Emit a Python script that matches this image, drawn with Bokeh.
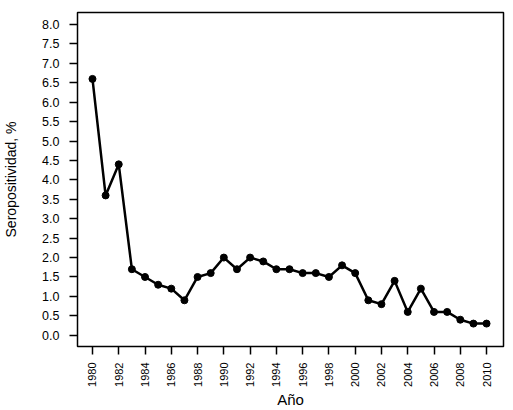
from bokeh.plotting import figure
from bokeh.models import FixedTicker, Range1d, NumeralTickFormatter
from bokeh.embed import file_html
from bokeh.resources import INLINE
import math

years = list(range(1980, 2011))
seropositividad = [6.6, 3.6, 4.4, 1.7, 1.5, 1.3, 1.2, 0.9, 1.5, 1.6, 2.0, 1.7, 2.0, 1.9,
                   1.7, 1.7, 1.6, 1.6, 1.5, 1.8, 1.6, 0.9, 0.8, 1.4, 0.6, 1.2, 0.6, 0.6,
                   0.4, 0.3, 0.3]
x_ticks = list(range(1980, 2011, 2))
y_ticks = [i * 0.5 for i in range(17)]

p = figure(width=513, height=410, output_backend="svg", toolbar_location=None,
           x_range=Range1d(1978.86, 2011.29), y_range=Range1d(-0.29, 8.31),
           min_border_left=77, min_border_top=12, min_border_right=10, min_border_bottom=62)

p.line(years, seropositividad, line_color="black", line_width=2.5)
p.scatter(years, seropositividad, size=7, fill_color="black", line_color="black")

p.grid.visible = False
p.outline_line_color = "black"
p.outline_line_width = 1.5
p.background_fill_color = "white"
p.border_fill_color = "white"

font = "Liberation Sans"
for ax in (p.xaxis[0], p.yaxis[0]):
    ax.axis_line_color = None
    ax.major_tick_out = 8
    ax.major_tick_in = 0
    ax.minor_tick_line_color = None
    ax.major_tick_line_color = "black"
    ax.major_tick_line_width = 1.5
    ax.major_label_text_font = font
    ax.major_label_text_color = "black"
    ax.axis_label_text_font = font
    ax.axis_label_text_font_style = "normal"
    ax.axis_label_text_color = "black"

p.xaxis.ticker = FixedTicker(ticks=x_ticks)
p.xaxis.major_label_orientation = math.pi / 2
p.xaxis.major_label_text_font_size = "11px"
p.xaxis.major_label_standoff = 8
p.xaxis.axis_label = "Año"
p.xaxis.axis_label_text_font_size = "15px"
p.xaxis.axis_label_standoff = 1

p.yaxis.ticker = FixedTicker(ticks=y_ticks)
p.yaxis.formatter = NumeralTickFormatter(format="0.0")
p.yaxis.major_label_text_font_size = "12.5px"
p.yaxis.major_label_standoff = 10
p.yaxis.axis_label = "Seropositividad, %"
p.yaxis.axis_label_text_font_size = "14px"
p.yaxis.axis_label_standoff = 20

open("out.html", "w").write(file_html(p, INLINE))
